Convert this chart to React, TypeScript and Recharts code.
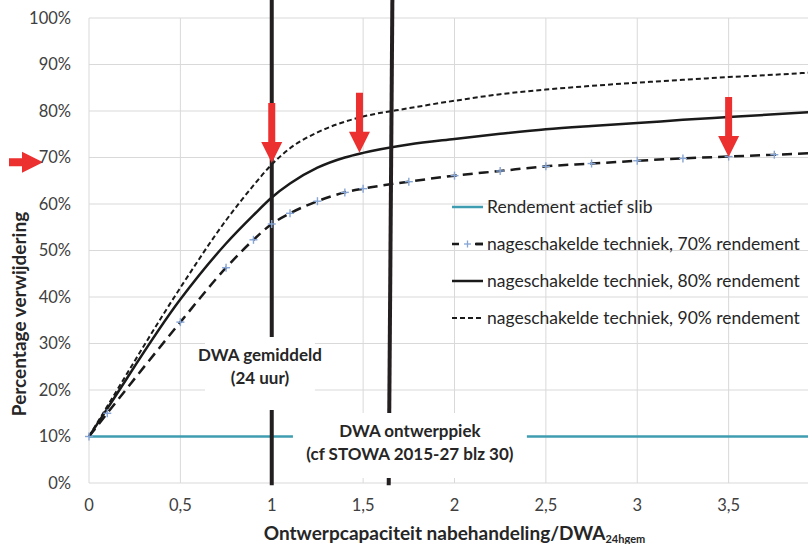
import React from "react";
import {
  LineChart,
  Line,
  XAxis,
  YAxis,
  CartesianGrid,
  ReferenceLine,
  ReferenceArea,
  ReferenceDot,
  Legend,
} from "recharts";

// Ontwerpcapaciteit nabehandeling / DWA (24h gemiddeld)
const capaciteit = [0, 0.1, 0.5, 0.75, 0.9, 1, 1.1, 1.25, 1.4, 1.5, 1.75, 2, 2.25, 2.5, 2.75, 3, 3.25, 3.5, 3.75, 4];

// Percentage verwijdering per scenario
const actiefSlib = [10, 10, 10, 10, 10, 10, 10, 10, 10, 10, 10, 10, 10, 10, 10, 10, 10, 10, 10, 10];
const rendement70 = [10, 15, 34.6, 46.3, 52.3, 55.7, 58.0, 60.6, 62.5, 63.3, 64.8, 66.1, 67.1, 68.1, 68.7, 69.3, 69.8, 70.2, 70.6, 71.0];
const rendement80 = [10, 16, 39.5, 51.5, 57.6, 61.4, 64.4, 67.8, 70.0, 71.0, 72.8, 74.0, 75.1, 76.1, 76.8, 77.4, 78.1, 78.7, 79.3, 79.9];
const rendement90 = [10, 16.5, 42.0, 56.5, 64.0, 68.5, 72.0, 75.4, 77.7, 78.8, 80.6, 82.2, 83.6, 84.6, 85.4, 86.1, 86.7, 87.3, 87.8, 88.4];

const xTicks = [0, 0.5, 1, 1.5, 2, 2.5, 3, 3.5];
const yTicks = [0, 10, 20, 30, 40, 50, 60, 70, 80, 90, 100];

const data = capaciteit.map((x, i) => ({
  x,
  actief: actiefSlib[i],
  r70: rendement70[i],
  r80: rendement80[i],
  r90: rendement90[i],
}));

const FONT = "Lato, 'Open Sans', sans-serif";
const INK = "#262626";
const RED = "#ec2f2f";
const TEAL = "#3f9db1";
const MARKER = "#86a4d4";

const series = [
  { key: "actief", name: "Rendement actief slib", color: TEAL, width: 2.5, dash: undefined, marker: false },
  { key: "r70", name: "nageschakelde techniek, 70% rendement", color: "#1a1a1a", width: 2.5, dash: "10 6", marker: true },
  { key: "r80", name: "nageschakelde techniek, 80% rendement", color: "#1a1a1a", width: 2.5, dash: undefined, marker: false },
  { key: "r90", name: "nageschakelde techniek, 90% rendement", color: "#1a1a1a", width: 2, dash: "5 3", marker: false },
];

const PlusDot = (props: any) => {
  const { cx, cy } = props;
  if (cx == null || cy == null) return null;
  return (
    <g stroke={MARKER} strokeWidth={1.4}>
      <line x1={cx - 4} y1={cy} x2={cx + 4} y2={cy} />
      <line x1={cx} y1={cy - 4} x2={cx} y2={cy + 4} />
    </g>
  );
};

const DownArrow = (props: any) => {
  const { cx, cy } = props;
  const pts = [
    [cx - 3.5, cy - 60],
    [cx + 3.5, cy - 60],
    [cx + 3.5, cy - 21],
    [cx + 10.5, cy - 21],
    [cx, cy],
    [cx - 10.5, cy - 21],
    [cx - 3.5, cy - 21],
  ];
  return <polygon points={pts.map((p) => p.join(",")).join(" ")} fill={RED} />;
};

// arrow left of the y axis, pointing at the 70% tick
const SideArrow = (props: any) => {
  const { cx, cy } = props;
  const tip = cx - 46;
  const pts = [
    [tip - 34, cy - 4],
    [tip - 21, cy - 4],
    [tip - 21, cy - 10.5],
    [tip, cy],
    [tip - 21, cy + 10.5],
    [tip - 21, cy + 4],
    [tip - 34, cy + 4],
  ];
  return <polygon points={pts.map((p) => p.join(",")).join(" ")} fill={RED} />;
};

const BoxText = (props: any) => {
  const { viewBox, lines } = props;
  const { x, y, width } = viewBox;
  const cx = x + width / 2;
  return (
    <text fontFamily={FONT} fontSize={17} fontWeight={700} fill={INK} textAnchor="middle">
      {lines.map((l: string, i: number) => (
        <tspan key={i} x={cx} y={y + 24 + i * 23}>
          {l}
        </tspan>
      ))}
    </text>
  );
};

const XTitle = (props: any) => {
  const { viewBox } = props;
  const cx = viewBox.x + viewBox.width / 2;
  return (
    <text x={cx} y={viewBox.y + 57} textAnchor="middle" fontFamily={FONT} fontSize={19} fontWeight={700} fill={INK}>
      <tspan>Ontwerpcapaciteit nabehandeling/DWA</tspan>
      <tspan fontSize={11} dy={3}>24hgem</tspan>
    </text>
  );
};

const YTitle = () => {
  const x = 18;
  const y = 314;
  return (
    <text
      x={x}
      y={y}
      transform={`rotate(-90, ${x}, ${y})`}
      textAnchor="middle"
      dominantBaseline="central"
      fontFamily={FONT}
      fontSize={19}
      fontWeight={700}
      fill={INK}
    >
      Percentage verwijdering
    </text>
  );
};

const LegendIcon = ({ s }: { s: (typeof series)[number] }) => (
  <svg width={35} height={14} style={{ display: "block" }}>
    <line x1={0} y1={7} x2={31} y2={7} stroke={s.color} strokeWidth={s.width} strokeDasharray={s.marker ? "7 17" : s.dash} />
    {s.marker && <line x1={23} y1={7} x2={31} y2={7} stroke={s.color} strokeWidth={s.width} />}
    {s.marker && (
      <g stroke={MARKER} strokeWidth={1.3}>
        <line x1={12} y1={7} x2={19} y2={7} />
        <line x1={15.5} y1={3.5} x2={15.5} y2={10.5} />
      </g>
    )}
  </svg>
);

const LegendBox = () => (
  <div style={{ fontFamily: FONT, fontSize: 17.5, color: INK }}>
    {series.map((s) => (
      <div key={s.key} style={{ display: "flex", alignItems: "center", height: 37, whiteSpace: "nowrap" }}>
        <LegendIcon s={s} />
        <span>{s.name}</span>
      </div>
    ))}
  </div>
);

export default function App() {
  return (
    <div
      style={{
        position: "absolute",
        left: 0,
        top: 0,
        width: 808,
        height: 544,
        overflow: "hidden",
        background: "#fff",
        fontFamily: FONT,
      }}
    >
      <LineChart width={840} height={544} data={data} margin={{ top: 18, right: 20, bottom: 0, left: 0 }}>
        <CartesianGrid stroke="#d9d9d9" strokeWidth={1} verticalValues={[...xTicks, 4]} horizontalValues={yTicks} />
        <XAxis
          dataKey="x"
          type="number"
          domain={[0, 4]}
          ticks={xTicks}
          interval={0}
          height={61}
          axisLine={false}
          tickLine={false}
          tickMargin={10}
          tick={{ fontSize: 16.5, fill: "#404040", fontFamily: FONT }}
          tickFormatter={(v: number) => String(v).replace(".", ",")}
          label={<XTitle />}
        />
        <YAxis
          type="number"
          domain={[0, 100]}
          ticks={yTicks}
          interval={0}
          width={89}
          axisLine={false}
          tickLine={false}
          tickMargin={12}
          tick={{ fontSize: 16.5, fill: "#404040", fontFamily: FONT }}
          tickFormatter={(v: number) => `${v}%`}
          label={<YTitle />}
        />
        {series.map((s) => (
          <Line
            key={s.key}
            dataKey={s.key}
            name={s.name}
            type="monotone"
            stroke={s.color}
            strokeWidth={s.width}
            strokeDasharray={s.dash}
            dot={s.marker ? <PlusDot /> : false}
            activeDot={false}
            isAnimationActive={false}
          />
        ))}

        {/* DWA gemiddeld en DWA ontwerppiek */}
        <ReferenceLine
          segment={[{ x: 1, y: 104 }, { x: 1, y: -0.5 }]}
          stroke="#231f20"
          strokeWidth={4}
          ifOverflow="visible"
          zIndex={420}
        />
        <ReferenceLine
          segment={[{ x: 1.66, y: 104 }, { x: 1.64, y: -0.5 }]}
          stroke="#231f20"
          strokeWidth={4}
          ifOverflow="visible"
          zIndex={420}
        />

        <ReferenceArea
          x1={0.635}
          x2={1.236}
          y1={15.7}
          y2={31.4}
          fill="#ffffff"
          fillOpacity={1}
          stroke="none"
          zIndex={450}
          label={<BoxText lines={["DWA gemiddeld", "(24 uur)"]} />}
        />
        <ReferenceArea
          x1={1.116}
          x2={2.396}
          y1={1.1}
          y2={15.05}
          fill="#ffffff"
          fillOpacity={1}
          stroke="none"
          zIndex={450}
          label={<BoxText lines={["DWA ontwerppiek", "(cf STOWA 2015-27 blz 30)"]} />}
        />

        <ReferenceDot x={1} y={68.8} r={1} shape={<DownArrow />} ifOverflow="visible" zIndex={700} />
        <ReferenceDot x={1.48} y={71.0} r={1} shape={<DownArrow />} ifOverflow="visible" zIndex={700} />
        <ReferenceDot x={3.5} y={70.1} r={1} shape={<DownArrow />} ifOverflow="visible" zIndex={700} />
        <ReferenceDot x={0} y={69} r={1} shape={<SideArrow />} ifOverflow="visible" zIndex={700} />

        <Legend
          layout="vertical"
          align="center"
          verticalAlign="middle"
          content={<LegendBox />}
          wrapperStyle={{ left: 452, top: 188, width: 356 }}
        />
      </LineChart>
    </div>
  );
}
